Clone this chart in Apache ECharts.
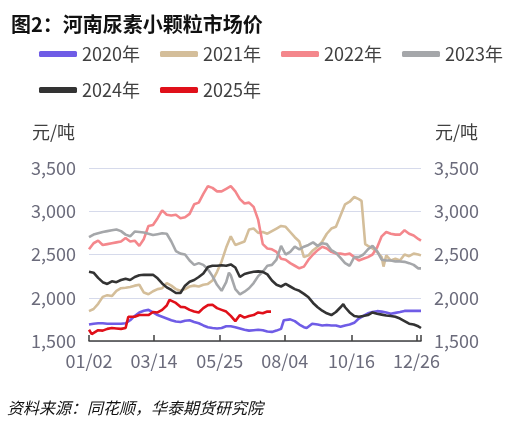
<!DOCTYPE html>
<html><head><meta charset="utf-8">
<script src="https://cdn.jsdelivr.net/npm/echarts@6/dist/echarts.min.js"></script>
<style>html,body{margin:0;padding:0;background:#fff}#c{width:519px;height:426px}</style>
</head><body><div id="c"></div>
<script>
const FONT = '"Noto Sans CJK SC","Noto Sans",sans-serif';
const titleText = '图2：河南尿素小颗粒市场价';
const sourceText = '资料来源：同花顺，华泰期货研究院';
const unitText = '元/吨';
const seriesNames = ['2020年','2021年','2022年','2023年','2024年','2025年'];
const seriesColors = ['#6F5CE6','#D4BE9A','#F4878C','#A5A7AA','#333333','#E0101A'];
const labelDates = ['01/02','03/14','05/25','08/04','10/16','12/26'];
const yTicks = [1500, 2000, 2500, 3000, 3500];

const d2020 = [['01/02',1690],['01/07',1700],['01/12',1705],['01/17',1705],['01/22',1700],['01/27',1700],['02/01',1700],['02/06',1700],['02/11',1705],['02/16',1740],['02/21',1790],['02/26',1830],['03/03',1850],['03/08',1860],['03/13',1830],['03/18',1800],['03/23',1780],['03/28',1760],['04/02',1740],['04/07',1725],['04/12',1720],['04/17',1735],['04/22',1740],['04/27',1720],['05/02',1705],['05/07',1680],['05/12',1660],['05/17',1650],['05/22',1645],['05/27',1650],['06/01',1670],['06/06',1670],['06/11',1660],['06/16',1645],['06/21',1630],['06/26',1620],['07/01',1625],['07/06',1630],['07/11',1625],['07/16',1610],['07/21',1605],['07/26',1620],['07/31',1640],['08/03',1740],['08/10',1750],['08/15',1730],['08/20',1690],['08/25',1660],['08/28',1650],['09/03',1700],['09/09',1690],['09/14',1680],['09/19',1685],['09/24',1680],['09/29',1680],['10/04',1665],['10/09',1680],['10/14',1690],['10/19',1710],['10/24',1760],['10/29',1790],['11/03',1820],['11/08',1835],['11/13',1845],['11/18',1840],['11/23',1830],['11/28',1815],['12/03',1825],['12/08',1835],['12/13',1848],['12/18',1850],['12/23',1848],['12/28',1848],['12/31',1848]];
const d2021 = [['01/02',1846],['01/07',1870],['01/12',1930],['01/17',2010],['01/22',2030],['01/27',2020],['02/01',2080],['02/06',2110],['02/11',2115],['02/16',2125],['02/21',2140],['02/26',2150],['03/03',2060],['03/08',2040],['03/13',2075],['03/18',2100],['03/23',2110],['03/28',2170],['04/02',2140],['04/07',2100],['04/12',2080],['04/17',2100],['04/22',2130],['04/27',2140],['05/02',2130],['05/07',2150],['05/12',2160],['05/17',2200],['05/22',2300],['05/27',2420],['06/01',2580],['06/06',2710],['06/11',2610],['06/16',2630],['06/21',2650],['06/26',2790],['07/01',2800],['07/06',2750],['07/11',2760],['07/16',2740],['07/21',2770],['07/26',2800],['07/31',2830],['08/05',2820],['08/10',2760],['08/15',2700],['08/20',2650],['08/25',2470],['08/30',2490],['09/04',2550],['09/09',2590],['09/14',2650],['09/19',2740],['09/24',2800],['09/29',2820],['10/04',2950],['10/09',3080],['10/14',3110],['10/19',3165],['10/24',3140],['10/27',3120],['10/31',2620],['11/03',2600],['11/08',2570],['11/13',2530],['11/18',2470],['11/20',2360],['11/23',2490],['11/28',2430],['12/03',2450],['12/08',2430],['12/13',2500],['12/18',2480],['12/23',2510],['12/28',2500],['12/31',2490]];
const d2022 = [['01/02',2560],['01/07',2630],['01/12',2660],['01/17',2610],['01/22',2620],['01/27',2630],['02/01',2640],['02/06',2650],['02/11',2690],['02/16',2650],['02/21',2660],['02/26',2600],['03/03',2680],['03/08',2830],['03/13',2840],['03/18',2920],['03/23',3010],['03/28',2960],['04/02',2950],['04/07',2960],['04/12',2920],['04/17',2930],['04/22',2970],['04/27',3080],['05/02',3100],['05/07',3200],['05/12',3290],['05/17',3270],['05/22',3230],['05/27',3230],['06/01',3260],['06/06',3290],['06/11',3230],['06/16',3140],['06/21',3090],['06/26',3100],['07/01',3050],['07/06',2900],['07/11',2620],['07/16',2570],['07/21',2560],['07/26',2530],['07/31',2450],['08/05',2440],['08/10',2400],['08/15',2370],['08/20',2340],['08/25',2360],['08/30',2440],['09/04',2500],['09/09',2550],['09/14',2590],['09/19',2570],['09/24',2530],['09/29',2510],['10/04',2510],['10/09',2500],['10/14',2510],['10/19',2470],['10/24',2430],['10/29',2450],['11/03',2470],['11/08',2500],['11/13',2580],['11/18',2710],['11/23',2760],['11/28',2740],['12/03',2730],['12/08',2730],['12/13',2780],['12/18',2740],['12/23',2720],['12/28',2680],['12/31',2660]];
const d2023 = [['01/02',2700],['01/07',2730],['01/12',2745],['01/17',2760],['01/22',2770],['01/27',2780],['02/01',2790],['02/06',2770],['02/11',2730],['02/16',2710],['02/21',2765],['02/26',2760],['03/03',2755],['03/08',2740],['03/13',2725],['03/18',2735],['03/23',2745],['03/28',2740],['04/02',2650],['04/07',2540],['04/12',2510],['04/17',2500],['04/22',2430],['04/27',2380],['05/02',2400],['05/07',2380],['05/12',2330],['05/17',2250],['05/22',2150],['05/27',2080],['06/01',2180],['06/04',2290],['06/06',2260],['06/11',2100],['06/16',2040],['06/21',2070],['06/26',2110],['07/01',2170],['07/06',2250],['07/11',2300],['07/16',2370],['07/21',2380],['07/26',2440],['07/31',2600],['08/05',2500],['08/10',2530],['08/15',2590],['08/20',2560],['08/25',2590],['08/30',2610],['09/04',2640],['09/09',2600],['09/14',2630],['09/19',2620],['09/24',2550],['09/29',2520],['10/04',2460],['10/09',2400],['10/14',2370],['10/19',2470],['10/24',2470],['10/29',2500],['11/03',2560],['11/08',2600],['11/13',2540],['11/18',2440],['11/23',2430],['11/28',2430],['12/03',2420],['12/08',2420],['12/13',2415],['12/18',2400],['12/23',2380],['12/28',2340],['12/31',2340]];
const d2024 = [['01/02',2300],['01/07',2290],['01/12',2230],['01/17',2180],['01/22',2160],['01/27',2190],['02/01',2180],['02/06',2205],['02/11',2220],['02/16',2205],['02/21',2240],['02/26',2260],['03/03',2265],['03/08',2265],['03/13',2265],['03/18',2225],['03/23',2165],['03/28',2120],['04/02',2090],['04/07',2055],['04/12',2055],['04/17',2140],['04/22',2185],['04/27',2205],['05/02',2240],['05/07',2280],['05/12',2355],['05/17',2370],['05/22',2370],['05/27',2375],['06/01',2370],['06/06',2385],['06/11',2350],['06/16',2240],['06/21',2275],['06/26',2290],['07/01',2300],['07/06',2305],['07/11',2300],['07/16',2270],['07/21',2200],['07/26',2150],['07/31',2130],['08/05',2160],['08/10',2130],['08/15',2100],['08/20',2080],['08/25',2045],['08/30',2005],['09/04',1940],['09/09',1890],['09/14',1850],['09/19',1820],['09/24',1800],['09/29',1835],['10/04',1890],['10/07',1925],['10/09',1890],['10/14',1830],['10/19',1790],['10/24',1780],['10/29',1790],['11/03',1800],['11/08',1830],['11/13',1815],['11/18',1805],['11/23',1795],['11/28',1790],['12/03',1780],['12/08',1760],['12/13',1730],['12/18',1700],['12/23',1690],['12/28',1670],['12/31',1650]];
const d2025 = [['01/02',1630],['01/05',1580],['01/07',1600],['01/12',1625],['01/17',1620],['01/22',1640],['01/27',1650],['02/01',1645],['02/06',1640],['02/11',1650],['02/14',1780],['02/16',1790],['02/21',1780],['02/26',1800],['03/03',1800],['03/08',1800],['03/13',1835],['03/18',1830],['03/23',1860],['03/28',1910],['03/31',1975],['04/02',1970],['04/07',1940],['04/12',1895],['04/17',1890],['04/22',1860],['04/27',1840],['05/02',1830],['05/07',1880],['05/12',1915],['05/17',1920],['05/22',1880],['05/27',1860],['06/01',1840],['06/06',1790],['06/11',1730],['06/13',1720],['06/16',1800],['06/21',1770],['06/26',1790],['07/01',1800],['07/06',1830],['07/11',1820],['07/16',1840],['07/20',1840]];
const seriesData = [d2020, d2021, d2022, d2023, d2024, d2025];

// daily category axis 01/02 .. 12/31
const monthDays = [31,28,31,30,31,30,31,31,30,31,30,31];
const pad = n => (n < 10 ? '0' : '') + n;
const categories = [];
for (let m = 0; m < 12; m++) for (let d = 1; d <= monthDays[m]; d++) {
  if (m === 0 && d === 1) continue;
  categories.push(pad(m + 1) + '/' + pad(d));
}
const lastDate = categories[categories.length - 1];
const fmt = v => v.toLocaleString('en-US');

const labelColor = '#6b6b7b';
const yAxisBase = {
  type: 'value', min: yTicks[0], max: yTicks[yTicks.length - 1], interval: 500,
  name: unitText, nameLocation: 'end', nameGap: 27,
  axisLine: { show: false }, axisTick: { show: false },
  axisLabel: { formatter: fmt, color: labelColor, fontSize: 18, fontFamily: FONT, margin: 13 }
};

const chart = echarts.init(document.getElementById('c'), null, { renderer: 'canvas' });
chart.setOption({
  animation: false,
  backgroundColor: '#fff',
  title: {
    text: titleText, left: 6, top: 9,
    textStyle: { fontSize: 20, fontWeight: 'bold', color: '#111', fontFamily: FONT }
  },
  legend: {
    data: seriesNames, left: 39, top: 45, width: 480, padding: 0,
    icon: 'roundRect', itemWidth: 38, itemHeight: 6, itemGap: 18,
    textStyle: { fontSize: 18, color: '#404040', fontFamily: FONT, lineHeight: 16, width: 60 }
  },
  grid: { left: 89, right: 98, top: 168, bottom: 85 },
  xAxis: {
    type: 'category', data: categories, boundaryGap: false,
    axisLine: { lineStyle: { color: '#404040', width: 1.5 } },
    axisTick: {
      inside: true, length: 6, lineStyle: { color: '#404040', width: 1.5 },
      interval: (i, v) => labelDates.indexOf(v) >= 0 || v === lastDate
    },
    axisLabel: {
      interval: (i, v) => labelDates.indexOf(v) >= 0,
      color: labelColor, fontSize: 18, fontFamily: FONT, margin: 11
    },
    splitLine: { show: false }
  },
  yAxis: [
    Object.assign({}, yAxisBase, {
      position: 'left',
      nameTextStyle: { color: '#404040', fontSize: 18, fontFamily: FONT, align: 'right', padding: [0, 14, 0, 0] },
      splitLine: { lineStyle: { color: '#D6DAEB', width: 1.2 } }
    }),
    Object.assign({}, yAxisBase, {
      position: 'right',
      nameTextStyle: { color: '#404040', fontSize: 18, fontFamily: FONT, align: 'left', padding: [0, 0, 0, 14] },
      splitLine: { show: false }
    })
  ],
  graphic: [{
    type: 'text', left: 7, top: 400,
    style: { text: sourceText, fontSize: 16, fontStyle: 'italic', fill: '#111', fontFamily: FONT }
  }],
  series: seriesNames.map((n, k) => ({
    name: n, type: 'line', data: seriesData[k], yAxisIndex: 0,
    showSymbol: false, symbol: 'none', smooth: false,
    lineStyle: { color: seriesColors[k], width: 2.6 },
    itemStyle: { color: seriesColors[k] },
    emphasis: { disabled: true }
  }))
});
</script></body></html>
